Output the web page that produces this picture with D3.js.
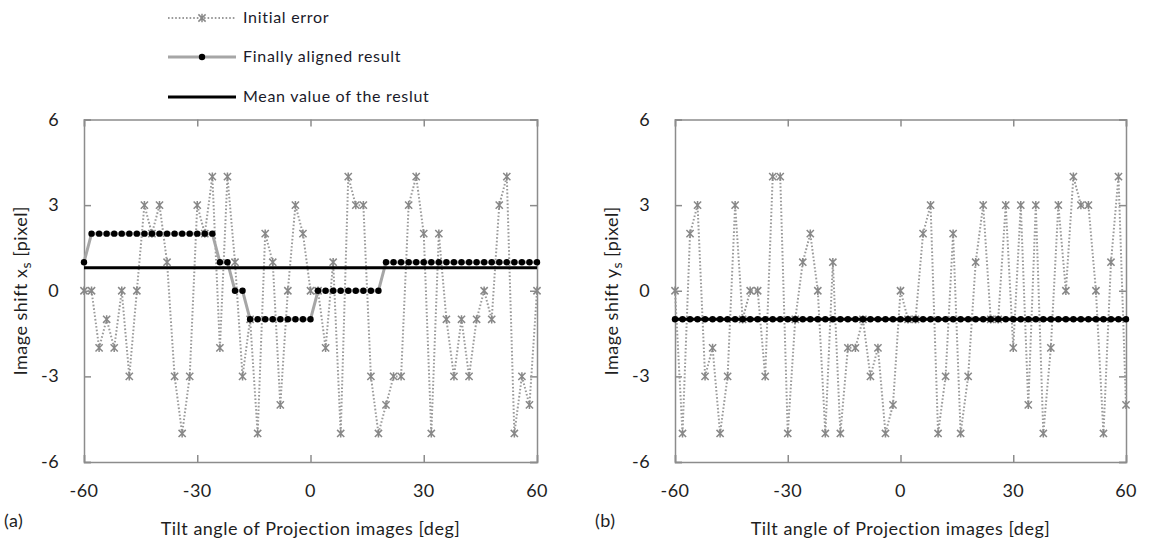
<!DOCTYPE html>
<html>
<head>
<meta charset="utf-8">
<script src="https://cdn.jsdelivr.net/npm/d3@7"></script>
<style>
  body { margin: 0; background: #fff; }
  svg { display: block; font-family: Lato, "Open Sans", sans-serif; }
</style>
</head>
<body>
<svg id="chart" width="1151" height="548"></svg>
<script>
// tilt angles of the projection images (deg)
const angles = [
  -60, -58, -56, -54, -52, -50, -48, -46, -44, -42, -40, -38, -36, -34, -32, -30,
  -28, -26, -24, -22, -20, -18, -16, -14, -12, -10, -8, -6, -4, -2, 0,
  2, 4, 6, 8, 10, 12, 14, 16, 18, 20, 22, 24, 26, 28, 30,
  32, 34, 36, 38, 40, 42, 44, 46, 48, 50, 52, 54, 56, 58, 60
];

// (a) image shift xs
const initialErrorA = [
  0, 0, -2, -1, -2, 0, -3, 0, 3, 2,
  3, 1, -3, -5, -3, 3, 2, 4, -2, 4,
  1, -3, -1, -5, 2, 1, -4, 0, 3, 2,
  0, 0, -2, 1, -5, 4, 3, 3, -3, -5,
  -4, -3, -3, 3, 4, 2, -5, 2, -1, -3,
  -1, -3, -1, 0, -1, 3, 4, -5, -3, -4,
  0
];
const alignedA = [
  1, 2, 2, 2, 2, 2, 2, 2, 2, 2,
  2, 2, 2, 2, 2, 2, 2, 2, 1, 1,
  0, 0, -1, -1, -1, -1, -1, -1, -1, -1,
  -1, 0, 0, 0, 0, 0, 0, 0, 0, 0,
  1, 1, 1, 1, 1, 1, 1, 1, 1, 1,
  1, 1, 1, 1, 1, 1, 1, 1, 1, 1,
  1
];

// (b) image shift ys
const initialErrorB = [
  0, -5, 2, 3, -3, -2, -5, -3, 3, -1,
  0, 0, -3, 4, 4, -5, -1, 1, 2, 0,
  -5, 1, -5, -2, -2, -1, -3, -2, -5, -4,
  0, -1, -1, 2, 3, -5, -3, 2, -5, -3,
  1, 3, -1, -1, 3, -2, 3, -4, 3, -5,
  -2, 3, 0, 4, 3, 3, 0, -5, 1, 4,
  -4
];
const alignedB = [
  -1, -1, -1, -1, -1, -1, -1, -1, -1, -1,
  -1, -1, -1, -1, -1, -1, -1, -1, -1, -1,
  -1, -1, -1, -1, -1, -1, -1, -1, -1, -1,
  -1, -1, -1, -1, -1, -1, -1, -1, -1, -1,
  -1, -1, -1, -1, -1, -1, -1, -1, -1, -1,
  -1, -1, -1, -1, -1, -1, -1, -1, -1, -1,
  -1
];

const xTicks = [-60, -30, 0, 30, 60];
const yTicks = [-6, -3, 0, 3, 6];
const legendLabels = ["Initial error", "Finally aligned result", "Mean value of the reslut"];

const svg = d3.select("#chart");

// excel style asterisk marker: an X with a vertical bar
const asterisk = {
  draw(context, size) {
    const r = Math.sqrt(size) / 2;
    context.moveTo(-r, -r);
    context.lineTo(r, r);
    context.moveTo(-r, r);
    context.lineTo(r, -r);
    context.moveTo(0, -r * 1.15);
    context.lineTo(0, r * 1.15);
  }
};

const axisColor = "#8c8c8c";
const textColor = "#1e1e1e";

const drawPanel = (opts) => {
  const x = d3.scaleLinear().domain([-60, 60]).range([opts.left, opts.right]);
  const y = d3.scaleLinear().domain([-6, 6]).range([462, 119.5]);
  const g = svg.append("g");

  // frame with inward ticks on all four sides
  const tick = 7;
  g.append("g")
    .attr("transform", `translate(0,${y(-6)})`)
    .call(d3.axisBottom(x).tickValues(xTicks).tickSize(-tick).tickFormat(""));
  g.append("g")
    .attr("transform", `translate(0,${y(6)})`)
    .call(d3.axisTop(x).tickValues(xTicks).tickSize(-tick).tickFormat(""));
  g.append("g")
    .attr("transform", `translate(${x(-60)},0)`)
    .call(d3.axisLeft(y).tickValues(yTicks).tickSize(-tick).tickFormat(""));
  g.append("g")
    .attr("transform", `translate(${x(60)},0)`)
    .call(d3.axisRight(y).tickValues(yTicks).tickSize(-tick).tickFormat(""));
  g.selectAll(".domain, .tick line")
    .attr("stroke", axisColor)
    .attr("stroke-width", 1.5);

  // tick labels
  g.selectAll(".xlab")
    .data(xTicks)
    .join("text")
    .attr("x", (d) => x(d))
    .attr("y", 497)
    .attr("text-anchor", "middle")
    .attr("font-size", 18)
    .attr("letter-spacing", 0.4)
    .attr("fill", textColor)
    .text((d) => d);
  g.selectAll(".ylab")
    .data(yTicks)
    .join("text")
    .attr("x", x(-60) - 25)
    .attr("y", (d) => y(d) + 6)
    .attr("text-anchor", "end")
    .attr("font-size", 18)
    .attr("letter-spacing", 0.4)
    .attr("fill", textColor)
    .text((d) => d);

  // axis titles
  g.append("text")
    .attr("x", (opts.left + opts.right) / 2)
    .attr("y", 535)
    .attr("text-anchor", "middle")
    .attr("font-size", 18)
    .attr("letter-spacing", 0.5)
    .attr("fill", textColor)
    .text("Tilt angle of Projection images [deg]");
  const yt = g.append("text")
    .attr("transform", `translate(${opts.left - 57},${(y(6) + y(-6)) / 2}) rotate(-90)`)
    .attr("text-anchor", "middle")
    .attr("font-size", 18)
    .attr("letter-spacing", 0.5)
    .attr("fill", textColor);
  yt.append("tspan").text(`Image shift ${opts.axisVar}`);
  yt.append("tspan").attr("dy", 4).attr("font-size", 14).text("s");
  yt.append("tspan").attr("dy", -4).text(" [pixel]");

  g.append("text")
    .attr("x", opts.left - 80)
    .attr("y", 527)
    .attr("font-size", 18)
    .attr("letter-spacing", 0.5)
    .attr("fill", textColor)
    .text(opts.tag);

  const pts = (vals) => angles.map((a, i) => ({ a, v: vals[i] }));
  const line = d3.line().x((d) => x(d.a)).y((d) => y(d.v));

  // initial error: dotted grey line with asterisks
  g.append("path")
    .datum(pts(opts.initial))
    .attr("fill", "none")
    .attr("stroke", "#9a9a9a")
    .attr("stroke-width", 2)
    .attr("stroke-dasharray", "1.6,2")
    .attr("d", line);
  g.selectAll(".star")
    .data(pts(opts.initial))
    .join("path")
    .attr("transform", (d) => `translate(${x(d.a)},${y(d.v)})`)
    .attr("d", d3.symbol().type(asterisk).size(52))
    .attr("fill", "none")
    .attr("stroke", "#888")
    .attr("stroke-width", 1.5);

  // finally aligned result
  g.append("path")
    .datum(pts(opts.aligned))
    .attr("fill", "none")
    .attr("stroke", "#a6a6a6")
    .attr("stroke-width", 3)
    .attr("d", line);
  g.selectAll(".dot")
    .data(pts(opts.aligned))
    .join("circle")
    .attr("cx", (d) => x(d.a))
    .attr("cy", (d) => y(d.v))
    .attr("r", 3.2)
    .attr("fill", "#000");

  // mean of the aligned result
  const mean = d3.mean(opts.aligned);
  g.append("line")
    .attr("x1", x(-60))
    .attr("x2", x(60))
    .attr("y1", y(mean))
    .attr("y2", y(mean))
    .attr("stroke", "#000")
    .attr("stroke-width", 3);
};

drawPanel({
  left: 84, right: 537, axisVar: "x", tag: "(a)",
  initial: initialErrorA, aligned: alignedA
});
drawPanel({
  left: 675, right: 1126, axisVar: "y", tag: "(b)",
  initial: initialErrorB, aligned: alignedB
});

// legend
const legend = svg.append("g").attr("transform", "translate(168,0)");
const rowsY = [18, 57, 97];
const sampleW = 68;

legend.append("line")
  .attr("x1", 0).attr("x2", sampleW)
  .attr("y1", rowsY[0]).attr("y2", rowsY[0])
  .attr("stroke", "#9a9a9a").attr("stroke-width", 2)
  .attr("stroke-dasharray", "1.6,2");
legend.append("path")
  .attr("transform", `translate(${sampleW / 2},${rowsY[0]})`)
  .attr("d", d3.symbol().type(asterisk).size(52))
  .attr("fill", "none").attr("stroke", "#888").attr("stroke-width", 1.5);

legend.append("line")
  .attr("x1", 0).attr("x2", sampleW)
  .attr("y1", rowsY[1]).attr("y2", rowsY[1])
  .attr("stroke", "#a6a6a6").attr("stroke-width", 3);
legend.append("circle")
  .attr("cx", sampleW / 2).attr("cy", rowsY[1]).attr("r", 3.2).attr("fill", "#000");

legend.append("line")
  .attr("x1", 0).attr("x2", sampleW)
  .attr("y1", rowsY[2]).attr("y2", rowsY[2])
  .attr("stroke", "#000").attr("stroke-width", 3);

legend.selectAll(".lt")
  .data(legendLabels)
  .join("text")
  .attr("x", sampleW + 7)
  .attr("y", (d, i) => rowsY[i] + 5)
  .attr("font-size", 16)
  .attr("letter-spacing", 0.7)
  .attr("fill", "#1a1a2a")
  .text((d) => d);
</script>
</body>
</html>
